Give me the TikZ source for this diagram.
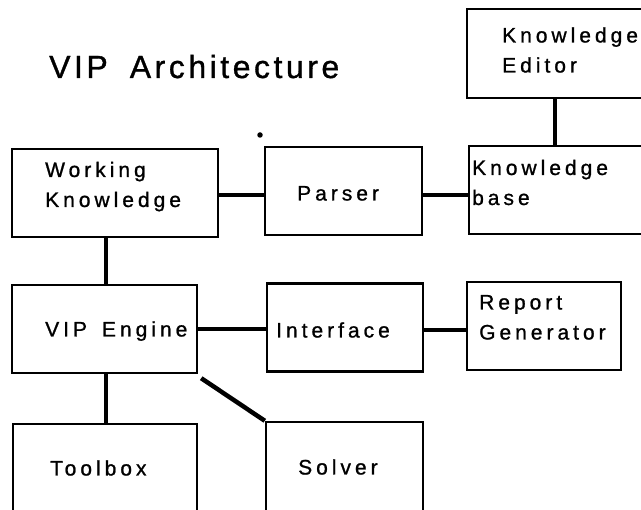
\documentclass[tikz,border=0pt]{standalone}
\usepackage{fontspec}
\setmainfont{Liberation Sans}
\newfontfamily\boxfont[LetterSpace=19,FakeBold=1]{Liberation Sans}
\newfontfamily\headfont[LetterSpace=11,FakeBold=1]{Liberation Sans}

\begin{document}
\begin{tikzpicture}[x=1pt,y=-1pt,
    box/.style={draw,line width=2.4pt,minimum height=88pt,inner sep=0pt},
    txt/.style={anchor=base west,align=left,inner sep=0pt,
        font=\boxfont\fontsize{21}{30}\selectfont},
    link/.style={line width=3.5pt}]
    \useasboundingbox(0,0)rectangle(641,510);
    \clip(0,0)rectangle(641,510);

    % boxes (the ones on the right and bottom run off the page)
    \node[box,minimum width=250pt,minimum height=89pt](editor)at(592,53.5){};
    \node[box,minimum width=250pt](kbase)at(594,190){};
    \node[box,minimum width=206pt](working)at(115,193){};
    \node[box,minimum width=157pt](parser)at(343.5,191){};
    \node[box,minimum width=185pt](engine)at(104.5,329){};
    \node[box,minimum width=156pt](interface)at(345,327.5){};
    \node[box,minimum width=154pt](report)at(544,326){};
    \node[box,minimum width=184pt,minimum height=89pt](toolbox)at(105,468.5){};
    \node[box,minimum width=157pt,minimum height=90pt](solver)at(344.5,467){};

    \node[txt,font=\headfont\fontsize{32}{36}\selectfont](title)at(49,78){VIP\hspace{22pt}Architecture};
    \node[circle,fill,inner sep=0pt,minimum size=5.5pt](dot)at(260,135){};

    % base anchor sits on the last line
    \node[txt](editor-t)at(502,72.5){Knowledge\\Editor};
    \node[txt](kbase-t)at(472,205){Knowledge\\base};
    \node[txt](working-t)at(45,207){Working\\Knowledge};
    \node[txt](parser-t)at(297,200.5){Parser};
    \node[txt](engine-t)at(45,336.5){VIP\hspace{15pt}Engine};
    \node[txt](interface-t)at(276,337.5){Interface};
    \node[txt](report-t)at(479,339.5){Report\\Generator};
    \node[txt](toolbox-t)at(50,475.5){Toolbox};
    \node[txt](solver-t)at(298,474.5){Solver};

    % connectors
    \draw[link]([yshift=-2pt]working.east)--([yshift=-2pt]working.east-|parser.west);
    \draw[link]([yshift=-4pt]parser.east)--([yshift=-4pt]parser.east-|kbase.west);
    \draw[link]([xshift=89pt]editor.south west)--([xshift=87pt]kbase.north west);
    \draw[link]([xshift=95pt]working.south west)--([xshift=95pt]engine.north west);
    \draw[link](engine.east)--(engine.east-|interface.west);
    \draw[link]([yshift=-2.5pt]interface.east)--([yshift=-2.5pt]interface.east-|report.west);
    \draw[link]([xshift=95pt]engine.south west)--([xshift=94pt]toolbox.north west);
    \draw[line width=4.5pt]([xshift=3pt,yshift=-4pt]engine.south east)--(solver.north west);
\end{tikzpicture}
\end{document}
